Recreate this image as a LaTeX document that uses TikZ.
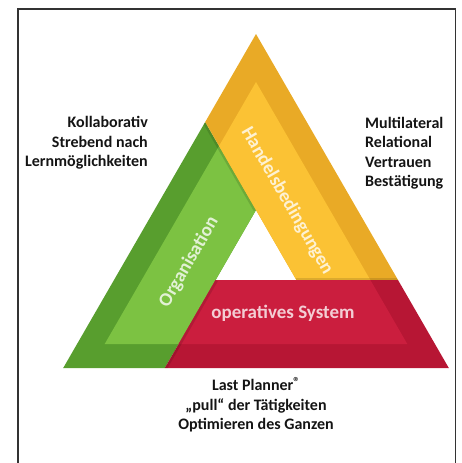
\documentclass[tikz,border=0pt]{standalone}
\usepackage{fontspec}
\setmainfont{Carlito}
\usetikzlibrary{positioning}

\definecolor{greenDark}{RGB}{88,158,46}
\definecolor{greenLight}{RGB}{124,194,66}
\definecolor{yellowDark}{RGB}{233,170,38}
\definecolor{yellowLight}{RGB}{251,194,52}
\definecolor{redDark}{RGB}{183,22,52}
\definecolor{redLight}{RGB}{203,30,62}

\newcommand{\regmark}{{\fontsize{13}{13}\selectfont\raisebox{4pt}{®}}}

\begin{document}
\begin{tikzpicture}[%
    x=1pt, y=-1pt,
    frame/.style={draw=black!80, line width=1.2pt},
    label/.style={font=\bfseries\fontsize{16}{19.5}\selectfont, text=black!92, inner sep=0pt},
    band/.style={font=\bfseries\fontsize{19}{20}\selectfont, text=white, text opacity=0.78, inner sep=0pt},
    shadow/.style={line width=5pt, draw=black, draw opacity=0.12}
  ]

  \useasboundingbox (0,0) rectangle (462,463);
  \draw[frame] (18,9) rectangle (455.5,475);

  % outer triangle and its inset
  \coordinate (A) at (256,34);
  \coordinate (B) at (63.2,368);
  \coordinate (C) at (448.8,368);
  \coordinate (Ai) at (256,82);
  \coordinate (Bi) at (104.7,344);
  \coordinate (Ci) at (407.3,344);
  % inner white triangle
  \coordinate (P) at (256,210);
  \coordinate (Q) at (215.6,280);
  \coordinate (R) at (296.4,280);
  % where the inner edges meet the outer sides
  \coordinate (Ag) at (205.2,122);
  \coordinate (Bg) at (164.8,368);
  \coordinate (Cg) at (398,280);

  % green band (left)
  \fill[greenDark] (B) -- (Ag) -- (P) -- (Q) -- (Bg) -- cycle;
  \begin{scope}
    \clip (Ai) -- (Bi) -- (Ci) -- cycle;
    \fill[greenLight] (B) -- (Ag) -- (P) -- (Q) -- (Bg) -- cycle;
  \end{scope}
  \begin{scope}
    \clip (B) -- (Ag) -- (P) -- (Q) -- (Bg) -- cycle;
    \draw[shadow] (Ag) -- (P);
  \end{scope}

  % yellow band (right)
  \fill[yellowDark] (A) -- (Cg) -- (R) -- (P) -- (Ag) -- cycle;
  \begin{scope}
    \clip (Ai) -- (Bi) -- (Ci) -- cycle;
    \fill[yellowLight] (A) -- (Cg) -- (R) -- (P) -- (Ag) -- cycle;
  \end{scope}
  \begin{scope}
    \clip (A) -- (Cg) -- (R) -- (P) -- (Ag) -- cycle;
    \draw[shadow] (R) -- (Cg);
  \end{scope}

  % red band (bottom)
  \fill[redDark] (Bg) -- (C) -- (Cg) -- (Q) -- cycle;
  \begin{scope}
    \clip (Ai) -- (Bi) -- (Ci) -- cycle;
    \fill[redLight] (Bg) -- (C) -- (Cg) -- (Q) -- cycle;
  \end{scope}
  \begin{scope}
    \clip (Bg) -- (C) -- (Cg) -- (Q) -- cycle;
    \draw[shadow] (Q) -- (Bg);
  \end{scope}

  % band titles
  \node[band, rotate=60] (org) at (189,262) {Organisation};
  \node[band, rotate=-60] (handel) at (287,201) {Handelsbedingungen};
  \node[band] (ops) at (283,313) {operatives System};

  % side texts
  \node[label, align=right, anchor=east] (left) at (148,143)
    {Kollaborativ\\Strebend nach\\Lernmöglichkeiten};
  \node[label, align=left, anchor=west] (right) at (365,153)
    {Multilateral\\Relational\\Vertrauen\\Bestätigung};
  \node[label, align=center] (bottom) at (256,405)
    {Last Planner\regmark\\„pull“ der Tätigkeiten\\Optimieren des Ganzen};
\end{tikzpicture}
\end{document}
